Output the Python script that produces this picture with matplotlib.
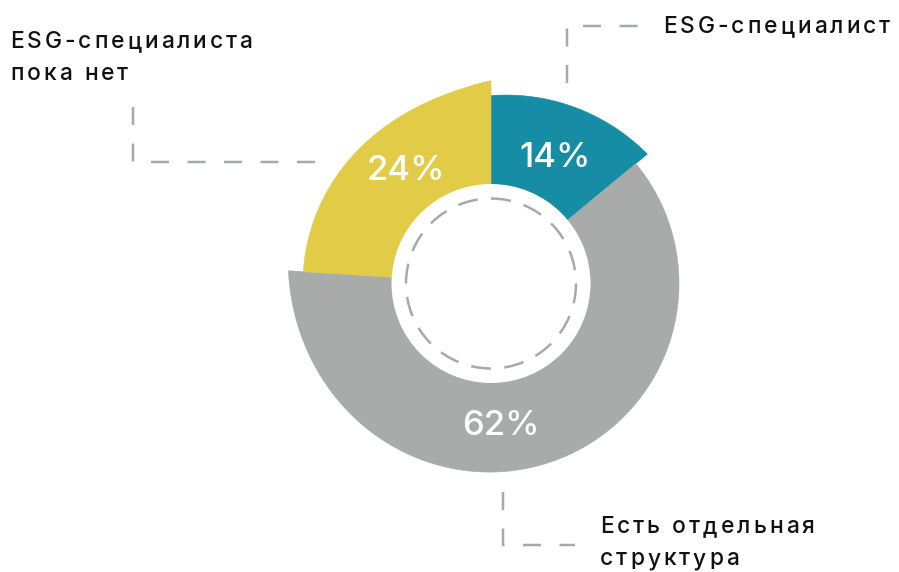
import numpy as np
import matplotlib.pyplot as plt
from matplotlib.patches import Polygon, Circle
from matplotlib.font_manager import FontProperties

plt.rcParams['font.family'] = ['Inter', 'DejaVu Sans']
plt.rcParams['lines.scale_dashes'] = False

# Данные
labels = ["ESG-специалист", "Есть отдельная\nструктура", "ESG-специалиста\nпока нет"]
shares = [14, 62, 24]
pct_text = ["14%", "62%", "24%"]
colors = ["#178da5", "#a8abaa", "#e2cb46"]

# Геометрия в пикселях
cx, cy = 491, 283.5
r_base, r_flare = 188, 203
flare_pow = [1.1, 6, 5]
r_hole = 99.5
r_dash = 85
r_pct = 142
pct_angle = [27, 176, 323]
label_xy = [(663, 33.3), (600, 533.3), (10, 48.3)]
line_gap = 31.7
track = 3.0  # межбуквенный интервал, px
leaders = [
    [(567.3, 82.7), (567.3, 26), (638, 26)],
    [(502.7, 491.7), (502.7, 545), (575, 545)],
    [(133.3, 106.7), (133.3, 161.7), (315, 161.7)],
]
grey = "#a7a9ac"
px = 0.72  # пикселей -> пунктов

fig = plt.figure(figsize=(8.99, 5.72), dpi=100)
ax = fig.add_axes([0, 0, 1, 1])
ax.set_xlim(0, 899)
ax.set_ylim(572, 0)
ax.axis('off')
renderer = fig.canvas.get_renderer()


def tracked_text(x, y, s, prop, **kw):
    # текст с разрядкой: каждая буква отдельно
    for i, ch in enumerate(s):
        if ch == " ":
            continue
        w = renderer.get_text_width_height_descent(s[:i], prop, ismath=False)[0] if i else 0
        ax.text(x + w + i * track, y, ch, fontproperties=prop, **kw)


# Сегменты кольца
total = sum(shares)
ends = np.cumsum(shares) / total * 360
starts = ends - np.array(shares) / total * 360
for s, e, c, p in zip(starts, ends, colors, flare_pow):
    th = np.linspace(s, e, 300)
    t = (th - s) / (e - s)
    r = r_base + (r_flare - r_base) * t ** p
    xs = cx + r * np.sin(np.radians(th))
    ys = cy - r * np.cos(np.radians(th))
    pts = np.column_stack([np.r_[cx, xs], np.r_[cy, ys]])
    ax.add_patch(Polygon(pts, closed=True, fc=c, ec=c, lw=0.4, zorder=2))

# Центр
ax.add_patch(Circle((cx, cy), r_hole, fc='white', ec='none', zorder=3))
n_dash = 16
cycle = 2 * np.pi * r_dash / n_dash
ax.add_patch(Circle((cx, cy), r_dash, fill=False, ec=grey, lw=2.5 * px,
                    ls=(0, (20 * px, (cycle - 20) * px)), zorder=4))

# Проценты
for a, txt in zip(pct_angle, pct_text):
    x = cx + r_pct * np.sin(np.radians(a))
    y = cy - r_pct * np.cos(np.radians(a))
    ax.text(x, y + 1, txt, color='white', fontsize=25, fontweight='medium',
            ha='center', va='center', zorder=5)

# Подписи
lab_prop = FontProperties(family=['Inter', 'DejaVu Sans'], size=16.4, weight='medium')
for (x, y), lab in zip(label_xy, labels):
    for i, line in enumerate(lab.split("\n")):
        tracked_text(x, y + i * line_gap, line, lab_prop,
                     color='#111111', ha='left', va='baseline')

# Выноски
for path in leaders:
    xs, ys = zip(*path)
    ax.plot(xs, ys, color=grey, lw=2.5 * px, dashes=(18 * px, 18.5 * px),
            solid_capstyle='butt', dash_capstyle='butt')

fig.savefig('out.png', dpi=100)
